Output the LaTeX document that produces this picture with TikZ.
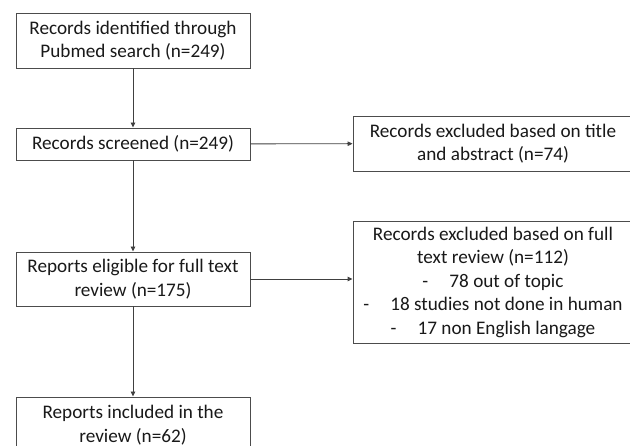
\documentclass[tikz,border=0pt]{standalone}
\usepackage{fontspec}
\setmainfont{Carlito}
\usetikzlibrary{arrows.meta}
\begin{document}
\begin{tikzpicture}[x=1pt, y=-1pt, line width=0.9pt, >={Triangle[length=5pt,width=4.5pt]},
  main node/.style={rectangle,draw=black!70,fill=white,align=center,inner sep=0pt,
    font=\fontsize{19.2}{23.5}\selectfont,text=black!90}]%flow boxes
\useasboundingbox (0,0) rectangle (630,446);
\begin{scope}
\node[main node,minimum width=234pt,minimum height=55pt] (rec_id) at (133,40.5) {Records identified through\\Pubmed search (n=249)};%1
\node[main node,minimum width=234pt,minimum height=32pt] (rec_scr) at (133,144) {Records screened (n=249)};%2
\node[main node,minimum width=280pt,minimum height=55pt] (rec_exc1) at (493,143.5) {Records excluded based on title\\and abstract (n=74)};%3
\node[main node,minimum width=234pt,minimum height=54pt] (rep_elig) at (133,279) {Reports eligible for full text\\review (n=175)};%4
\node[main node,minimum width=280pt,minimum height=122pt] (rec_exc2) at (493,282) {Records excluded based on full\\text review (n=112)\\-\hspace{1.1em}78 out of topic\\-\hspace{1.1em}18 studies not done in human\\-\hspace{1.1em}17 non English langage};%5
\node[main node,minimum width=234pt,minimum height=56pt] (rep_incl) at (133,425) {Reports included in the\\review (n=62)};%6
\end{scope}
\begin{scope}[every edge/.style={draw=black!75,line width=0.9pt,->}]
\draw (rec_id) edge (rec_scr);
\draw (rec_scr) edge (rec_exc1);
\draw (rec_scr) edge (rep_elig);
\draw (rep_elig) edge (rep_elig -| rec_exc2.west);
\draw (rep_elig) edge (rep_incl);
\end{scope}
\end{tikzpicture}
\end{document}
